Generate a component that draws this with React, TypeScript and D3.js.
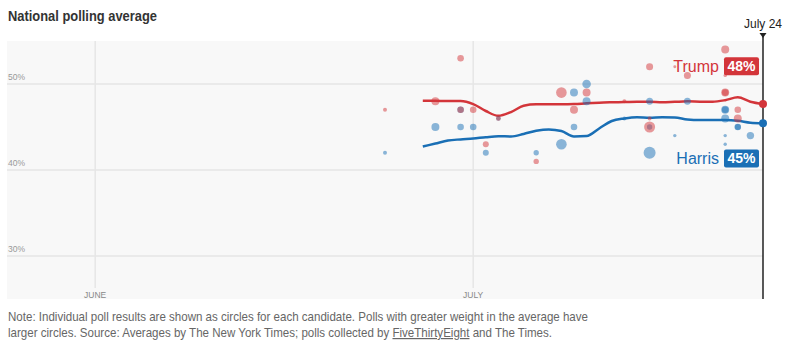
import React from "react";
import * as d3 from "d3";

const avgDates = [
  "2024-06-27","2024-06-28","2024-06-29","2024-06-30","2024-07-01","2024-07-02","2024-07-03",
  "2024-07-04","2024-07-05","2024-07-06","2024-07-07","2024-07-08","2024-07-09","2024-07-10",
  "2024-07-11","2024-07-12","2024-07-13","2024-07-14","2024-07-15","2024-07-16","2024-07-17",
  "2024-07-18","2024-07-19","2024-07-20","2024-07-21","2024-07-22","2024-07-23","2024-07-24",
];
const trumpAvg = [
  48.06, 48.05, 48.02, 48.02, 47.67, 46.86, 46.3,
  46.74, 47.47, 47.64, 47.64, 47.64, 47.66, 47.76,
  47.83, 47.87, 47.9, 47.94, 47.94, 47.88, 47.93,
  47.98, 47.95, 47.94, 48.12, 48.45, 47.94, 47.67,
];
const harrisAvg = [
  42.73, 43.08, 43.43, 43.56, 43.66, 43.81, 43.92,
  43.9, 44.19, 44.56, 44.72, 44.53, 43.9, 43.95,
  44.83, 45.7, 45.99, 46.13, 46.08, 46.12, 46.1,
  45.87, 45.81, 45.81, 45.81, 45.72, 45.5, 45.43,
];

type Poll = { date: string; value: number; weight: number };
const trumpPolls: Poll[] = [
  { date: "2024-06-24", value: 47, weight: 0.11 },
  { date: "2024-06-28", value: 48, weight: 0.44 },
  { date: "2024-06-30", value: 53, weight: 0.3 },
  { date: "2024-06-30", value: 47, weight: 0.3 },
  { date: "2024-07-01", value: 47, weight: 0.3 },
  { date: "2024-07-02", value: 43, weight: 0.25 },
  { date: "2024-07-03", value: 46, weight: 0.15 },
  { date: "2024-07-06", value: 41, weight: 0.2 },
  { date: "2024-07-08", value: 49, weight: 0.78 },
  { date: "2024-07-09", value: 47, weight: 0.44 },
  { date: "2024-07-10", value: 49, weight: 0.44 },
  { date: "2024-07-13", value: 48, weight: 0.11 },
  { date: "2024-07-15", value: 52, weight: 0.34 },
  { date: "2024-07-15", value: 45, weight: 0.84 },
  { date: "2024-07-15", value: 46, weight: 0.11 },
  { date: "2024-07-17", value: 52, weight: 0.06 },
  { date: "2024-07-18", value: 51, weight: 0.34 },
  { date: "2024-07-21", value: 54, weight: 0.44 },
  { date: "2024-07-21", value: 51, weight: 0.08 },
  { date: "2024-07-21", value: 49, weight: 0.44 },
  { date: "2024-07-21", value: 49, weight: 0.3 },
  { date: "2024-07-22", value: 47, weight: 0.3 },
  { date: "2024-07-22", value: 46, weight: 0.44 },
];
const harrisPolls: Poll[] = [
  { date: "2024-06-24", value: 42, weight: 0.11 },
  { date: "2024-06-28", value: 45, weight: 0.44 },
  { date: "2024-06-30", value: 47, weight: 0.3 },
  { date: "2024-06-30", value: 45, weight: 0.3 },
  { date: "2024-07-01", value: 45, weight: 0.3 },
  { date: "2024-07-02", value: 42, weight: 0.25 },
  { date: "2024-07-03", value: 46, weight: 0.15 },
  { date: "2024-07-06", value: 42, weight: 0.2 },
  { date: "2024-07-08", value: 43, weight: 0.78 },
  { date: "2024-07-09", value: 49, weight: 0.44 },
  { date: "2024-07-09", value: 45, weight: 0.3 },
  { date: "2024-07-10", value: 50, weight: 0.51 },
  { date: "2024-07-10", value: 48, weight: 0.44 },
  { date: "2024-07-13", value: 46, weight: 0.11 },
  { date: "2024-07-15", value: 48, weight: 0.34 },
  { date: "2024-07-15", value: 45, weight: 0.2 },
  { date: "2024-07-15", value: 42, weight: 1.0 },
  { date: "2024-07-17", value: 44, weight: 0.08 },
  { date: "2024-07-18", value: 48, weight: 0.34 },
  { date: "2024-07-21", value: 47, weight: 0.44 },
  { date: "2024-07-21", value: 47, weight: 0.3 },
  { date: "2024-07-21", value: 46, weight: 0.44 },
  { date: "2024-07-21", value: 44, weight: 0.08 },
  { date: "2024-07-21", value: 43, weight: 0.08 },
  { date: "2024-07-22", value: 45, weight: 0.3 },
  { date: "2024-07-22", value: 45, weight: 0.25 },
  { date: "2024-07-23", value: 44, weight: 0.38 },
];

const yTicks = [30, 40, 50];
const monthTicks = [
  { date: "2024-06-01", label: "JUNE" },
  { date: "2024-07-01", label: "JULY" },
];
const xDomain = ["2024-05-25", "2024-07-24"];
const yDomain = [25, 55];
const candidates = [
  { name: "Trump", label: "48%" },
  { name: "Harris", label: "45%" },
];
const titleText = "National polling average";
const endLabel = "July 24";
const noteLine1 =
  "Note: Individual poll results are shown as circles for each candidate. Polls with greater weight in the average have";
const noteLine2a = "larger circles. Source: Averages by The New York Times; polls collected by ";
const noteLink = "FiveThirtyEight";
const noteLine2b = " and The Times.";

const RED = "#d3353a";
const BLUE = "#1a6fb5";
const SANS = "'Liberation Sans', Arial, sans-serif";

export default function App() {
  const W = 790;
  const H = 350;
  const left = 7;
  const right = 763;
  const top = 41;
  const bottom = 299;

  const parse = (s: string) => new Date(s + "T00:00:00Z");
  const x = d3.scaleUtc().domain(xDomain.map(parse)).range([left, right]);
  const y = d3.scaleLinear().domain(yDomain).range([bottom, top]);
  const r = d3.scaleSqrt().domain([0, 1]).range([0, 6]);

  const line = d3
    .line<[string, number]>()
    .x((d) => x(parse(d[0])))
    .y((d) => y(d[1]))
    .curve(d3.curveMonotoneX);

  const trumpSeries = avgDates.map((d, i) => [d, trumpAvg[i]] as [string, number]);
  const harrisSeries = avgDates.map((d, i) => [d, harrisAvg[i]] as [string, number]);
  const lastDate = parse(avgDates[avgDates.length - 1]);
  const lastT = trumpAvg[trumpAvg.length - 1];
  const lastH = harrisAvg[harrisAvg.length - 1];
  const xEnd = x(lastDate);

  const labelRows = [
    { ...candidates[0], color: RED, cy: y(52.05) },
    { ...candidates[1], color: BLUE, cy: y(41.35) },
  ];

  return (
    <svg
      width={W}
      height={H}
      style={{ position: "absolute", left: 0, top: 0, background: "#fff" }}
    >
      <text
        x={8}
        y={21}
        fontFamily={SANS}
        fontWeight={700}
        fontSize={15.5}
        fill="#333"
        textLength={149}
        lengthAdjust="spacingAndGlyphs"
      >
        {titleText}
      </text>

      <rect x={left} y={top} width={right - left} height={bottom - top} fill="#f8f8f8" />

      {yTicks.map((t) => (
        <g key={t}>
          <line x1={left} x2={right} y1={y(t)} y2={y(t)} stroke="#dcdcdc" strokeWidth={1} />
          <text x={8} y={y(t) - 4} fontFamily={SANS} fontSize={8.5} fill="#999">
            {t}%
          </text>
        </g>
      ))}

      {monthTicks.map((m) => (
        <g key={m.label}>
          <line
            x1={x(parse(m.date))}
            x2={x(parse(m.date))}
            y1={top}
            y2={bottom - 11}
            stroke="#e6e6e6"
            strokeWidth={1.5}
          />
          <text
            x={x(parse(m.date))}
            y={bottom - 1}
            textAnchor="middle"
            fontFamily={SANS}
            fontSize={8.5}
            fill="#888"
          >
            {m.label}
          </text>
        </g>
      ))}

      <path d={line(trumpSeries) || ""} fill="none" stroke={RED} strokeWidth={2.5} />
      <path d={line(harrisSeries) || ""} fill="none" stroke={BLUE} strokeWidth={2.5} />

      {harrisPolls.map((p, i) => (
        <circle
          key={"h" + i}
          cx={x(parse(p.date))}
          cy={y(p.value)}
          r={r(p.weight)}
          fill={BLUE}
          fillOpacity={0.5}
        />
      ))}
      {trumpPolls.map((p, i) => (
        <circle
          key={"t" + i}
          cx={x(parse(p.date))}
          cy={y(p.value)}
          r={r(p.weight)}
          fill={RED}
          fillOpacity={0.5}
        />
      ))}

      <line x1={xEnd} x2={xEnd} y1={34} y2={bottom} stroke="#222" strokeWidth={1.5} />
      <path d={`M${xEnd - 3.5},33 L${xEnd + 3.5},33 L${xEnd},38 Z`} fill="#222" />
      <text x={xEnd} y={28} textAnchor="middle" fontFamily={SANS} fontSize={12} fill="#222">
        {endLabel}
      </text>

      <circle cx={xEnd} cy={y(lastT)} r={4} fill={RED} />
      <circle cx={xEnd} cy={y(lastH)} r={4} fill={BLUE} />

      {labelRows.map((l) => (
        <g key={l.name}>
          <text
            x={719}
            y={l.cy + 5.5}
            textAnchor="end"
            fontFamily={SANS}
            fontSize={16}
            fill={l.color}
          >
            {l.name}
          </text>
          <rect x={724} y={l.cy - 9} width={35} height={18} rx={2} fill={l.color} />
          <text
            x={741.5}
            y={l.cy + 5}
            textAnchor="middle"
            fontFamily={SANS}
            fontWeight={700}
            fontSize={14}
            fill="#fff"
          >
            {l.label}
          </text>
        </g>
      ))}

      <g transform="translate(8,0) scale(0.963,1)">
        <text x={0} y={321} fontFamily={SANS} fontSize={12} fill="#666">
          {noteLine1}
        </text>
        <text x={0} y={337} fontFamily={SANS} fontSize={12} fill="#666">
          {noteLine2a}
          <tspan textDecoration="underline" style={{ textDecoration: "underline" }}>
            {noteLink}
          </tspan>
          {noteLine2b}
        </text>
      </g>
    </svg>
  );
}
